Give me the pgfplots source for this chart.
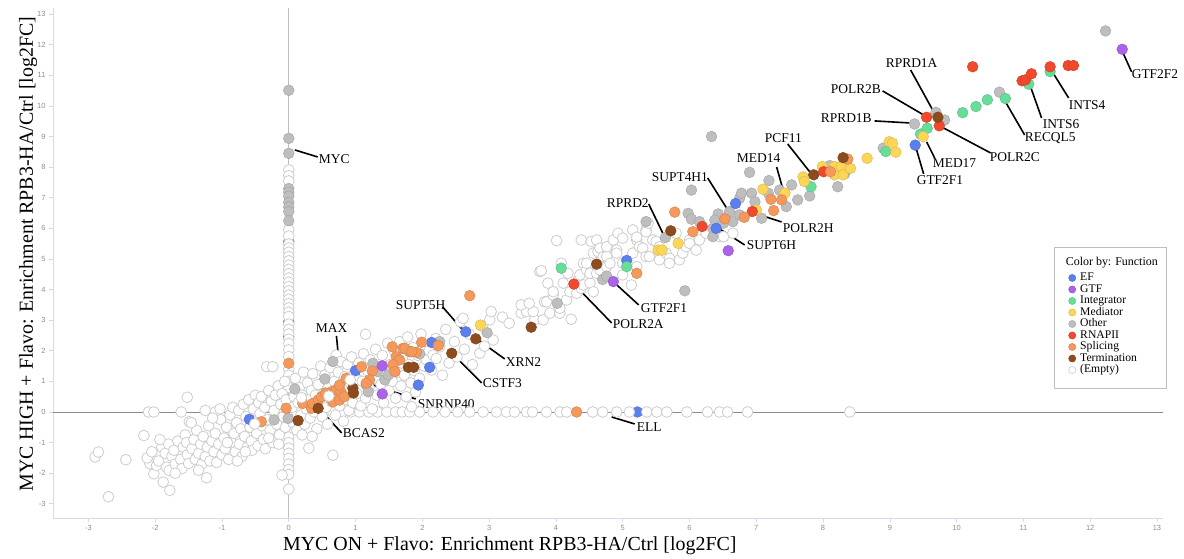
\documentclass[border=0pt]{standalone}
\usepackage{fontspec}
\setmainfont{Liberation Serif}
\newfontfamily\tickfont{Liberation Sans}
\usepackage{pgfplots}
\pgfplotsset{compat=1.18}
\definecolor{cEF}{RGB}{91,127,238}
\definecolor{cGTF}{RGB}{172,98,232}
\definecolor{cINT}{RGB}{102,221,153}
\definecolor{cMED}{RGB}{253,214,88}
\definecolor{cOTH}{RGB}{190,190,190}
\definecolor{cRNA}{RGB}{240,73,45}
\definecolor{cSPL}{RGB}{244,152,92}
\definecolor{cTER}{RGB}{141,76,30}
\definecolor{cEMP}{RGB}{205,205,205}
\definecolor{axisc}{RGB}{216,216,232}
\definecolor{tickc}{RGB}{140,140,140}
\definecolor{legbox}{RGB}{190,190,190}
\pgfplotsset{
  pts/.style={only marks, mark=*, mark size=5.4bp, forget plot,
    mark options={fill=#1, draw=#1!85!black, line width=0.4bp}},
  emp/.style={only marks, mark=*, mark size=5.4bp, forget plot,
    mark options={fill=white, draw=cEMP, line width=0.8bp}},
  leg/.style={only marks, mark=*, mark size=3.6bp,
    mark options={fill=#1, draw=#1!85!black, line width=0.4bp}},
}
\begin{document}
\begin{tikzpicture}
\path[use as bounding box] (-53bp,-41bp) rectangle (1131bp,518bp);
\begin{axis}[
  at={(0,0)}, anchor=south west,
  scale only axis, width=1110bp, height=510bp,
  xmin=-3.53, xmax=13.09, ymin=-3.464, ymax=13.20,
  axis x line*=bottom, axis y line*=left,
  axis line style={draw=axisc, line width=0.8bp},
  xtick={-3,...,13}, ytick={-3,...,13},
  tick align=outside, major tick length=4bp,
  tick style={draw=axisc, line width=0.6bp},
  ticklabel style={font=\tickfont\fontsize{7.5}{8}\selectfont, text=tickc},
  /pgf/number format/assume math mode=true,
  clip=false,
  legend cell align=left,
  legend style={at={(0.915,0.4819)}, anchor=north west, draw=none, fill=none,
    inner sep=0pt, outer sep=0pt, row sep=0pt,
    font=\fontsize{11.7}{11.5}\selectfont,
    nodes={inner sep=0pt, text height=8.3bp, text depth=3.2bp},
    /tikz/every odd column/.append style={column sep=4.4bp}},
]
% reference lines
\draw[draw=black!25, line width=0.8bp] (axis cs:0,-3.464) -- (axis cs:0,13.20);
\draw[draw=black!45, line width=0.9bp] (axis cs:-3.53,0) -- (axis cs:13.09,0);

% colored points partly hidden by empties
\addplot[pts=cEF] coordinates {(0,2.95) (0,2.46) (5.22,0)};
\addplot[pts=cGTF] coordinates {(0,5.57)};

% (Empty)
\addplot[emp] coordinates {
(0,7.91) (0,7.72) (0,7.55) (0,5.95) (0,5.75) (0,5.49) (0,5.36) (0,5.22) (0,5.08) (0,4.94) (0,4.80) (0,4.66)
(0,4.52) (0,4.38) (0,4.24) (0,4.10) (0,3.96) (0,3.82) (0,3.68) (0,3.54) (0,3.40) (0,3.26) (0,3.12) (0,2.87)
(0,2.70) (0,2.55) (0,2.38) (0,2.24) (0,2.03) (0,1.81) (0,1.40) (0,1.20) (0,1.00) (0,0.80)
(0,-0.48) (0,-0.65) (0,-0.82) (0,-1.00) (0,-1.18) (0,-1.35) (0,-1.52) (0,-1.70) (0,-1.88) (0,-2.04) (0,-2.52)
(0.12,0) (0.25,0) (0.38,0) (0.52,0) (0.66,0) (0.80,0) (0.93,0) (1.06,0) (1.20,0) (1.33,0) (1.47,0) (1.60,0)
(1.70,0) (1.81,0) (1.96,0) (2.16,0) (2.34,0) (2.53,0) (2.71,0) (2.91,0) (3.11,0) (3.26,0) (3.38,0) (3.56,0)
(3.65,0) (3.86,0) (4.06,0) (4.16,0) (4.55,0) (4.70,0) (4.91,0) (5.10,0) (5.36,0) (5.51,0) (5.66,0) (5.96,0)
(6.27,0) (6.45,0) (6.57,0) (6.87,0) (8.40,0)
(-2.90,-1.47) (-2.85,-1.31) (-2.70,-2.77) (-2.44,-1.56) (-2.17,-0.77) (-2.10,0) (-2.02,0) (-2.08,-1.69)
(-2.02,-2.02) (-2.12,-1.50) (-2.05,-1.30) (-1.98,-1.75)
(-1.88,-2.29) (-1.78,-2.56) (-1.83,-1.80) (-1.79,-1.91) (-1.95,-1.60) (-1.90,-1.15) (-1.85,-1.35) (-1.80,-1.05)
(-1.75,-1.45) (-1.70,-1.70) (-1.72,-1.25) (-1.66,-0.95) (-1.62,-1.55) (-1.60,-1.85) (-1.58,-1.15) (-1.55,-0.75)
(-1.61,0) (-1.52,0.48) (-1.49,-0.32) (-1.52,-1.40) (-1.50,-1.68) (-1.53,-1.00) (-1.93,-0.90) (-1.70,-2.00)
(-1.45,-1.20) (-1.42,-0.90) (-1.40,-1.55) (-1.38,-0.60) (-1.35,-1.35) (-1.32,-1.05) (-1.30,-1.70) (-1.28,-0.80)
(-1.25,-1.45) (-1.23,-2.15) (-1.22,-1.15) (-1.20,-0.45) (-1.18,-1.60) (-1.15,-0.95) (-1.12,-1.30) (-1.10,0.00)
(-1.10,-0.70) (-1.08,-1.65) (-1.05,-1.05) (-1.02,-0.25) (-1.00,-1.40) (-1.03,0.10) (-1.25,0.05) (-1.35,-1.90)
(-1.46,-0.35) (-1.14,-0.20)
(-0.97,-0.85) (-0.95,-1.20) (-0.93,-0.50) (-0.90,-1.55) (-0.88,-0.10) (-0.86,-1.00) (-0.84,0.15) (-0.82,-0.70)
(-0.80,-1.30) (-0.78,-0.35) (-0.75,0.05) (-0.74,-1.05) (-0.72,-0.55) (-0.70,-1.45) (-0.68,0.25) (-0.66,-0.80)
(-0.64,-0.15) (-0.62,-1.15) (-0.60,0.40) (-0.58,-0.50) (-0.56,-0.95) (-0.55,-1.25) (-0.53,0.10) (-0.52,-0.30)
(-0.50,0.55) (-0.92,-1.00) (-0.77,-1.60) (-0.65,-1.30)
(-0.48,-0.70) (-0.46,-1.10) (-0.45,0.30) (-0.43,-0.05) (-0.41,0.50) (-0.40,-0.45) (-0.38,-0.90) (-0.36,0.15)
(-0.35,-1.20) (-0.33,1.48) (-0.32,-0.25) (-0.30,0.70) (-0.28,-0.60) (-0.26,0.35) (-0.24,1.48) (-0.24,-1.00)
(-0.22,0.05) (-0.20,0.55) (-0.18,-0.40) (-0.16,0.85) (-0.14,-0.75) (-0.12,0.25) (-0.10,-2.06) (-0.10,0.60)
(-0.08,-0.15) (-0.06,1.00) (-0.05,-0.50) (-0.04,0.40) (-0.30,-0.85) (-0.15,-1.05)
(0.05,0.15) (0.06,-0.35) (0.08,0.50) (0.10,1.10) (0.12,-0.60) (0.14,0.30) (0.16,0.80) (0.18,-0.10)
(0.20,0.55) (0.22,1.30) (0.24,-0.40) (0.26,0.10) (0.28,0.95) (0.30,-1.18) (0.30,0.40) (0.32,-0.20)
(0.34,0.70) (0.36,1.25) (0.38,0.00) (0.40,0.55) (0.42,-0.55) (0.44,0.90) (0.46,0.30) (0.48,1.50)
(0.50,-0.15) (0.20,-0.75) (0.35,-0.80)
(0.52,0.60) (0.54,1.20) (0.56,0.15) (0.58,-0.40) (0.60,0.85) (0.62,1.45) (0.64,0.35) (0.66,-1.41)
(0.68,1.00) (0.70,-0.10) (0.71,1.86) (0.72,0.55) (0.74,1.30) (0.76,0.20) (0.78,1.65) (0.80,0.75)
(0.82,-0.30) (0.84,1.15) (0.86,0.40) (0.88,1.55) (0.90,0.05) (0.92,0.95) (0.94,1.80) (0.96,0.30)
(0.98,1.25) (1.03,1.05)
(1.02,0.60) (1.05,1.60) (1.08,0.20) (1.10,1.00) (1.12,1.90) (1.15,2.54) (1.15,0.45) (1.18,1.35)
(1.20,0.80) (1.22,1.70) (1.25,0.10) (1.28,1.10) (1.30,2.05) (1.32,0.55) (1.35,1.45) (1.38,0.90)
(1.40,1.85) (1.42,0.30) (1.45,1.20) (1.48,2.25) (1.50,0.70)
(1.52,1.55) (1.55,1.00) (1.58,2.00) (1.60,0.45) (1.63,1.30) (1.66,2.30) (1.68,0.85) (1.70,1.75)
(1.73,1.20) (1.76,0.50) (1.78,2.45) (1.80,1.55) (1.83,0.95) (1.86,2.10) (1.88,1.35) (1.90,0.65)
(1.93,1.85) (1.96,1.10) (1.98,2.55) (1.84,0.17)
(2.03,1.50) (2.06,1.70) (2.10,2.00) (2.14,1.37) (2.16,1.86) (2.20,2.40) (2.21,1.75) (2.26,2.13)
(2.30,1.20) (2.35,2.70) (2.40,1.60) (2.48,2.30) (2.52,1.80) (2.57,2.95) (2.61,3.06) (2.63,2.05)
(2.70,2.55) (2.75,1.55) (2.86,1.92) (2.90,2.80) (2.93,2.15) (3.01,3.01) (3.03,3.28) (3.06,2.35)
(3.48,3.23) (3.56,3.28) (3.68,3.01) (3.66,3.28) (3.76,4.59) (3.78,4.62) (3.81,3.01) (3.83,3.60)
(3.86,3.60) (3.88,4.21) (3.91,3.23) (3.96,3.82) (3.96,3.93) (4.01,5.60) (4.06,3.23) (3.48,3.50)
(3.20,3.10) (3.30,2.90) (3.60,3.55)
(4.06,3.39) (4.08,4.86) (4.11,4.21) (4.16,3.66) (4.18,4.53) (4.21,3.93) (4.23,3.03) (4.31,3.88)
(4.33,4.31) (4.36,4.48) (4.38,5.62) (4.38,4.04) (4.41,4.15) (4.41,4.86) (4.46,4.64) (4.46,4.86)
(4.51,4.21) (4.51,4.53) (4.53,5.57) (4.56,3.93) (4.56,5.19) (4.61,5.62) (4.61,4.53) (4.63,5.24)
(4.66,5.35) (4.66,4.64) (4.71,5.08) (4.76,5.08) (4.76,4.75) (4.76,5.40) (4.81,4.86) (4.86,5.62)
(4.91,5.29) (4.91,5.19) (4.93,5.84)
(5.00,5.68) (5.00,4.48) (5.00,4.86) (5.13,4.15) (5.15,5.95) (5.15,5.19) (5.21,5.62) (5.21,5.71)
(5.21,4.75) (5.25,5.40) (5.30,5.35) (5.35,5.95) (5.35,5.89) (5.35,5.08) (5.38,6.17) (5.40,5.08)
(5.45,5.62) (5.50,5.57) (5.55,5.40) (5.55,4.97) (5.65,5.19) (5.70,5.02) (5.70,4.86) (5.80,5.84)
(5.85,4.97) (5.90,5.19) (5.95,5.40) (6.00,5.62) (6.00,5.51) (6.10,5.29) (6.15,5.62) (6.25,5.84)
(6.45,5.73) (6.51,5.73) (6.65,5.84)
};

% colored points
\addplot[pts=cOTH] coordinates {
(0,10.51) (0,8.94) (0,8.45) (0,7.30) (0,7.18) (0,7.05) (0,6.85) (0,6.70) (0,6.55) (0,6.25)
(-0.22,-0.26) (-0.01,-0.21) (0.09,0.75) (0.54,1.08) (0.66,1.65) (1.16,0.88) (1.19,0.66) (1.26,1.59)
(1.33,1.32) (1.44,1.05) (1.49,1.21) (1.96,1.90) (2.26,2.30) (2.97,2.59) (4.02,3.55) (4.70,4.33)
(4.76,4.44) (5.93,3.96) (5.64,5.70) (5.35,6.22) (5.98,6.49) (6.03,6.30) (6.15,6.22) (6.03,7.25)
(6.33,9.00) (6.35,6.00) (6.35,5.73) (6.43,6.47) (6.38,6.27) (6.51,6.17) (6.60,6.55) (6.65,6.22)
(6.75,6.44) (6.75,6.98) (6.78,7.15) (6.93,7.15) (6.98,6.87) (6.90,7.83) (7.08,6.33) (7.18,7.15)
(7.19,7.56) (7.35,7.25) (7.53,7.42) (7.45,6.71) (7.62,6.93) (7.80,7.06) (8.10,8.05) (8.22,7.36)
(8.90,8.62) (9.37,9.41) (9.69,9.79) (9.82,9.54) (10.64,10.45) (12.23,12.45)
};
\addplot[pts=cEF] coordinates {
(-0.59,-0.24) (1.00,1.35) (2.11,1.46) (1.94,0.88) (2.14,2.27) (2.65,2.62) (5.06,4.95) (6.40,6.00)
(6.69,6.81) (9.38,8.72)
};
\addplot[pts=cGTF] coordinates {(1.40,1.51) (1.40,0.59) (4.86,4.26) (6.58,5.27) (12.48,11.85)};
\addplot[pts=cINT] coordinates {
(4.08,4.70) (5.06,4.75) (7.82,7.36) (8.32,7.78) (8.94,8.51) (9.46,9.08) (9.56,9.27) (10.09,9.78)
(10.29,9.98) (10.46,10.20) (10.73,10.24) (11.08,10.71) (11.40,11.12)
};
\addplot[pts=cMED] coordinates {
(2.87,2.84) (5.53,5.29) (5.59,5.29) (5.83,5.51) (7.00,6.60) (7.10,7.28) (7.43,7.15) (7.70,7.68)
(7.72,7.53) (7.99,8.02) (8.17,7.75) (8.17,8.02) (8.27,8.02) (8.30,7.75) (8.41,7.96) (8.66,8.29)
(8.99,8.83) (9.04,8.78) (9.09,8.49) (9.50,9.00)
};
\addplot[pts=cRNA] coordinates {
(4.27,4.18) (6.19,6.06) (6.94,6.55) (8.01,7.85) (9.55,9.63) (9.74,9.35) (10.24,11.28) (10.98,10.82)
(11.03,10.85) (11.12,11.05) (11.40,11.28) (11.67,11.32) (11.75,11.32)
};
\addplot[pts=cSPL] coordinates {
(0,1.59) (-0.41,-0.32) (-0.04,0.12) (0.21,0.28) (0.34,0.12) (0.36,0.28) (0.44,0.39) (0.49,0.50)
(0.66,0.33) (0.76,0.39) (0.64,0.66) (0.71,0.72) (0.78,0.66) (0.83,0.50) (0.76,0.88) (0.86,1.10)
(1.09,1.48) (1.25,1.34) (1.21,1.05) (1.16,0.94) (1.55,2.13) (1.71,2.08) (1.81,1.97) (1.91,1.95)
(1.99,2.28) (2.24,2.17) (1.61,1.81) (1.66,1.70) (1.56,1.54) (1.59,1.32) (1.74,2.08) (1.84,1.97)
(0.55,0.62) (2.71,3.80) (4.31,0) (5.21,4.53) (5.78,6.53) (6.05,5.89) (6.53,6.31) (6.82,6.36)
(7.26,6.58) (7.22,6.95) (7.38,6.93) (8.11,7.85) (8.37,8.26)
};
\addplot[pts=cTER] coordinates {
(0.14,-0.28) (0.44,0.12) (0.96,0.78) (0.97,0.62) (1.79,1.46) (1.87,1.46) (2.44,1.92) (2.80,2.39)
(3.63,2.77) (4.61,4.83) (5.72,5.92) (7.86,7.75) (8.30,8.31) (9.72,9.63)
};
% empty points drawn in front
\addplot[emp] coordinates {(0.92,1.05) (0.60,0.52) (0.19,0.47) (-0.51,-0.39)};

% leader lines
\begin{scope}[line width=1.6bp]
\draw (axis cs:0.090,8.562) -- (axis cs:0.434,8.333);
\draw (axis cs:0.714,2.484) -- (axis cs:0.749,1.699);
\draw (axis cs:0.434,0.163) -- (axis cs:0.793,-0.686);
\draw (axis cs:1.033,1.046) -- (axis cs:1.901,0.425);
\draw (axis cs:4.835,-0.163) -- (axis cs:5.180,-0.392);
\draw (axis cs:2.305,3.431) -- (axis cs:2.605,2.680);
\draw (axis cs:2.859,2.320) -- (axis cs:3.234,1.732);
\draw (axis cs:2.485,1.830) -- (axis cs:2.889,0.948);
\draw (axis cs:4.311,4.085) -- (axis cs:4.835,2.908);
\draw (axis cs:4.880,4.216) -- (axis cs:5.240,3.497);
\draw (axis cs:5.389,6.797) -- (axis cs:5.599,5.850);
\draw (axis cs:6.272,7.647) -- (axis cs:6.602,6.503);
\draw (axis cs:6.452,5.980) -- (axis cs:6.826,5.458);
\draw (axis cs:7.006,6.471) -- (axis cs:7.380,6.209);
\draw (axis cs:7.305,8.007) -- (axis cs:7.410,7.190);
\draw (axis cs:7.470,8.758) -- (axis cs:7.814,7.810);
\draw (axis cs:9.551,8.824) -- (axis cs:9.671,8.301);
\draw (axis cs:9.401,8.562) -- (axis cs:9.506,7.778);
\draw (axis cs:8.772,9.510) -- (axis cs:9.296,9.444);
\draw (axis cs:8.892,10.490) -- (axis cs:9.506,9.706);
\draw (axis cs:9.311,11.176) -- (axis cs:9.641,9.869);
\draw (axis cs:9.775,9.314) -- (axis cs:10.509,8.464);
\draw (axis cs:10.689,10.294) -- (axis cs:11.018,9.052);
\draw (axis cs:11.108,10.621) -- (axis cs:11.272,9.608);
\draw (axis cs:11.452,11.046) -- (axis cs:11.677,10.261);
\draw (axis cs:12.485,11.765) -- (axis cs:12.620,11.111);
\end{scope}
% labels
\begin{scope}[every node/.style={anchor=base west, inner sep=0pt, font=\fontsize{13.5}{14}\selectfont}]
\node at (axis cs:0.449,8.105) {MYC};
\node at (axis cs:0.404,2.582) {MAX};
\node at (axis cs:0.808,-0.850) {BCAS2};
\node at (axis cs:1.931,0.098) {SNRNP40};
\node at (axis cs:5.210,-0.654) {ELL};
\node at (axis cs:1.602,3.333) {SUPT5H};
\node at (axis cs:3.249,1.471) {XRN2};
\node at (axis cs:2.904,0.784) {CSTF3};
\node at (axis cs:4.850,2.712) {POLR2A};
\node at (axis cs:5.269,3.235) {GTF2F1};
\node at (axis cs:4.760,6.667) {RPRD2};
\node at (axis cs:5.434,7.516) {SUPT4H1};
\node at (axis cs:6.856,5.294) {SUPT6H};
\node at (axis cs:7.395,5.850) {POLR2H};
\node at (axis cs:6.707,8.137) {MED14};
\node at (axis cs:7.126,8.791) {PCF11};
\node at (axis cs:9.641,7.974) {MED17};
\node at (axis cs:9.401,7.418) {GTF2F1};
\node at (axis cs:7.964,9.444) {RPRD1B};
\node at (axis cs:8.114,10.392) {POLR2B};
\node at (axis cs:8.937,11.242) {RPRD1A};
\node at (axis cs:10.494,8.170) {POLR2C};
\node at (axis cs:11.018,8.824) {RECQL5};
\node at (axis cs:11.287,9.248) {INTS6};
\node at (axis cs:11.677,9.869) {INTS4};
\node at (axis cs:12.620,10.882) {GTF2F2};
\end{scope}
% axis titles
\node[anchor=base, inner sep=0pt, font=\fontsize{20}{22}\selectfont] at (axis cs:3.31,-4.54)
  {MYC ON + Flavo: Enrichment RPB3-HA/Ctrl [log2FC]};
\node[anchor=base, rotate=90, inner sep=0pt, font=\fontsize{20}{22}\selectfont] at (axis cs:-3.83,5.16)
  {MYC HIGH + Flavo: Enrichment RPB3-HA/Ctrl [log2FC]};
% legend frame and title
\draw[draw=legbox, line width=0.8bp, fill=white] (axis cs:11.47,5.39) rectangle (axis cs:13.144,0.784);
\node[anchor=base west, inner sep=0pt, font=\fontsize{12}{13}\selectfont] at (axis cs:11.632,4.771) {Color by: Function};
\addlegendimage{leg=cEF}\addlegendentry{EF}
\addlegendimage{leg=cGTF}\addlegendentry{GTF}
\addlegendimage{leg=cINT}\addlegendentry{Integrator}
\addlegendimage{leg=cMED}\addlegendentry{Mediator}
\addlegendimage{leg=cOTH}\addlegendentry{Other}
\addlegendimage{leg=cRNA}\addlegendentry{RNAPII}
\addlegendimage{leg=cSPL}\addlegendentry{Splicing}
\addlegendimage{leg=cTER}\addlegendentry{Termination}
\addlegendimage{only marks, mark=*, mark size=3.6bp, mark options={fill=white, draw=cEMP, line width=0.6bp}}\addlegendentry{(Empty)}
\end{axis}
\end{tikzpicture}
\end{document}
